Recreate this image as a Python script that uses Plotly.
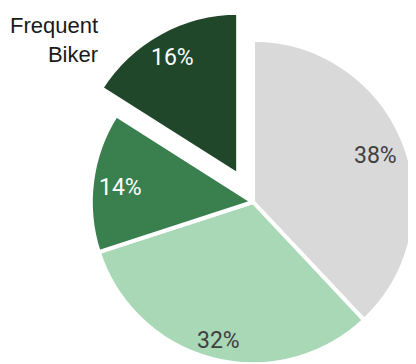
import math
import plotly.graph_objects as go

labels = ["Other A", "Other B", "Other C", "Frequent Biker"]
values = [38, 32, 14, 16]
colors = ["#D9D9D9", "#A8D8B5", "#3A7F4E", "#21472B"]
text_colors = ["#404040", "#404040", "#FFFFFF", "#FFFFFF"]
pulls = [0, 0, 0, 0.19]
callout_label = "Frequent<br>Biker"

W, H = 438, 388
CX, CY = 245, 194          # pie centre in figure pixels
R = 162.18                 # resulting pie radius in pixels
BOX = R * (2 + 2 * max(pulls))

fig = go.Figure(go.Pie(
    labels=labels,
    values=values,
    sort=False,
    direction="clockwise",
    rotation=0,
    pull=pulls,
    marker=dict(colors=colors, line=dict(color="white", width=4)),
    textinfo="none",
    domain=dict(x=[(CX - BOX / 2) / W, 1], y=[0, 1]),
    showlegend=False,
    hoverinfo="skip",
))

# percentage labels placed "inside end" along each slice's mid-angle
total = sum(values)
cum = 0
HW, HH, PAD = 20, 9, 8
for v, p, tc in zip(values, pulls, text_colors):
    theta = 2 * math.pi * (cum + v / 2) / total
    cum += v
    s, c = math.sin(theta), math.cos(theta)
    d = R - PAD - (HW * abs(s) + HH * abs(c)) + p * R
    px = CX + d * s
    py = CY - d * c
    fig.add_annotation(
        text=f"{round(100 * v / total)}%",
        xref="paper", yref="paper",
        x=px / W, y=1 - py / H,
        xanchor="center", yanchor="middle",
        yshift=-2,
        showarrow=False,
        font=dict(family="Roboto", size=23, color=tc),
    )

fig.add_annotation(
    text=callout_label,
    xref="paper", yref="paper",
    x=92 / W, y=1 - 32 / H,
    xanchor="right", yanchor="middle", align="right",
    showarrow=False,
    font=dict(family="Liberation Sans", size=22, color="#1A1A1A"),
)

fig.update_layout(
    width=W, height=H,
    margin=dict(l=0, r=0, t=0, b=0),
    paper_bgcolor="white",
    plot_bgcolor="white",
)

fig.write_html("out.html")
